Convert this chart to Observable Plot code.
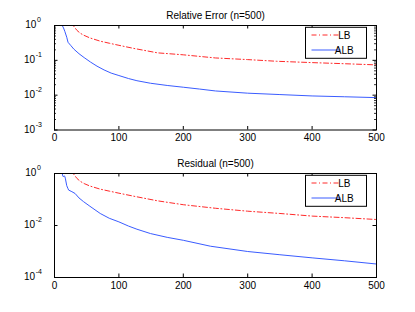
<!DOCTYPE html>
<html><head><meta charset="utf-8">
<script src="https://cdn.jsdelivr.net/npm/d3@7"></script>
<script src="https://cdn.jsdelivr.net/npm/@observablehq/plot@0.6"></script>
<style>
body{margin:0;background:#fff;}
#chart{width:415px;height:312px;background:#fff;}
svg{display:block;}
</style>
</head><body><div id="chart"></div>
<script>
// ---- tick labels / categories ----
const xTicks = [0, 100, 200, 300, 400, 500];
const topYTicks = [1e-3, 1e-2, 1e-1, 1];
const topYExponents = ["-3", "-2", "-1", "0"];
const botYTicks = [1e-4, 1e-2, 1];
const botYExponents = ["-4", "-2", "0"];
const seriesNames = ["LB", "ALB"];
const titles = ["Relative Error (n=500)", "Residual (n=500)"];

// ---- Relative error ----
const relLB_x = [1, 29, 35, 40, 46, 55, 71, 85, 100, 123, 160, 200, 250, 300, 345, 400, 450, 500];
const relLB_y = [1, 1, 0.72, 0.6, 0.52, 0.44, 0.355, 0.31, 0.27, 0.22, 0.164, 0.144, 0.117, 0.105, 0.094, 0.086, 0.08, 0.074];
const relALB_x = [1, 12, 14, 16, 19, 21, 25, 30, 38, 46, 56, 66, 77, 88, 100, 115, 128, 149, 175, 200, 225, 250, 300, 350, 400, 450, 500];
const relALB_y = [1, 1, 0.85, 0.68, 0.46, 0.33, 0.27, 0.21, 0.155, 0.12, 0.089, 0.068, 0.053, 0.043, 0.0366, 0.030, 0.026, 0.022, 0.019, 0.0169, 0.0150, 0.0132, 0.0114, 0.0104, 0.0095, 0.0090, 0.0085];

// ---- Residual ----
const resLB_x = [1, 29, 35, 40, 46, 55, 71, 85, 100, 123, 160, 200, 250, 300, 350, 400, 450, 500];
const resLB_y = [1, 1, 0.64, 0.5, 0.41, 0.33, 0.25, 0.21, 0.175, 0.134, 0.089, 0.063, 0.046, 0.0355, 0.029, 0.023, 0.02, 0.017];
const resALB_x = [1, 12, 13, 14, 15, 16, 17, 19, 21, 22, 27, 32, 38, 45, 55, 71, 85, 100, 115, 128, 149, 175, 200, 242, 300, 350, 400, 450, 500];
const resALB_y = [1, 1, 0.8, 0.74, 0.81, 0.78, 0.62, 0.34, 0.26, 0.23, 0.2, 0.17, 0.115, 0.083, 0.055, 0.029, 0.019, 0.0138, 0.0095, 0.0072, 0.0049, 0.0035, 0.0027, 0.0016, 0.00100, 0.00075, 0.00057, 0.00044, 0.00033];

const topMinor = [1e-3, 1e-2, 1e-1].flatMap(p => [2,3,4,5,6,7,8,9].map(m => m * p));

const FONT = "'Liberation Sans', Arial, Helvetica, sans-serif";
const RED = "#ff2a2a", BLUE = "#3a5cff", DASH = "5,2.5,1,2.5";

function pts(xs, ys) { return xs.map((x, i) => ({x, y: ys[i]})); }

function panel({title, lb, alb, yDomain, yTicks, yExps, minor, height, mt, mb}) {
  const W = 415, ml = 54, mr = 39;
  const ph = height - mt - mb, pw = W - ml - mr;
  const marks = [
    Plot.line(lb, {x: "x", y: "y", stroke: RED, strokeWidth: 1, strokeDasharray: DASH, clip: true}),
    Plot.line(alb, {x: "x", y: "y", stroke: BLUE, strokeWidth: 1, clip: true}),
    Plot.frame({stroke: "#000", strokeWidth: 1}),
    Plot.ruleX(xTicks, {insetTop: ph - 3.5, stroke: "#000"}),
    Plot.ruleX(xTicks, {insetBottom: ph - 3.5, stroke: "#000"}),
    Plot.ruleY(yTicks, {insetRight: pw - 3.5, stroke: "#000"}),
    Plot.ruleY(yTicks, {insetLeft: pw - 3.5, stroke: "#000"}),
    Plot.axisX(xTicks, {tickSize: 0, tickPadding: 4, fontSize: 10, fill: "#000", label: null}),
    Plot.text([title], {frameAnchor: "top", dy: -7, lineAnchor: "bottom", fontSize: 10, fill: "#000"})
  ];
  if (minor) {
    marks.push(Plot.ruleY(minor, {insetRight: pw - 2, stroke: "#000", strokeWidth: 0.8}));
    marks.push(Plot.ruleY(minor, {insetLeft: pw - 2, stroke: "#000", strokeWidth: 0.8}));
  }
  const chart = Plot.plot({
    width: W, height, marginLeft: ml, marginRight: mr, marginTop: mt, marginBottom: mb,
    style: {fontFamily: FONT, fontSize: "10px", color: "#000", background: "#fff"},
    x: {domain: [0, 500]},
    y: {type: "log", domain: yDomain, axis: null},
    marks
  });
  const svg = d3.select(chart);
  const yScale = chart.scale("y");
  // y tick labels: "10" with superscript exponent, one text element each
  const ga = svg.append("g").attr("font-family", FONT).attr("fill", "#000");
  yTicks.forEach((v, i) => {
    const py = yScale.apply(v);
    const t = ga.append("text").attr("x", ml - 21).attr("y", py + 3).attr("font-size", 10);
    t.append("tspan").text("10");
    t.append("tspan").attr("font-size", 7).attr("dx", 0.6).attr("dy", -5.6).text(yExps[i]);
  });
  // legend inside the frame, top-right
  const xr = chart.scale("x").range, yr = yScale.range;
  const right = Math.max(...xr), top = Math.min(...yr);
  const bw = 61, bh = 31;
  const bx = right - 9.5 - bw, by = top + 2.3;
  const g = svg.append("g").attr("font-family", FONT).attr("font-size", 10);
  g.append("rect").attr("x", bx).attr("y", by).attr("width", bw).attr("height", bh)
    .attr("fill", "#fff").attr("stroke", "#000").attr("stroke-width", 1);
  const entries = [{name: seriesNames[0], stroke: RED, dash: DASH}, {name: seriesNames[1], stroke: BLUE, dash: null}];
  entries.forEach((e, i) => {
    const cy = by + 7.7 + i * 15;
    g.append("line").attr("x1", bx + 6).attr("x2", bx + 35).attr("y1", cy).attr("y2", cy)
      .attr("stroke", e.stroke).attr("stroke-width", 1).attr("stroke-dasharray", e.dash);
    g.append("text").attr("x", bx + 38.8).attr("y", cy).attr("dy", "0.35em").attr("fill", "#000").text(e.name);
  });
  return chart;
}

const root = document.getElementById("chart");
root.appendChild(panel({
  title: titles[0], lb: pts(relLB_x, relLB_y), alb: pts(relALB_x, relALB_y),
  yDomain: [1e-3, 1], yTicks: topYTicks, yExps: topYExponents, minor: topMinor,
  height: 156, mt: 25, mb: 26.5
}));
root.appendChild(panel({
  title: titles[1], lb: pts(resLB_x, resLB_y), alb: pts(resALB_x, resALB_y),
  yDomain: [1e-4, 1], yTicks: botYTicks, yExps: botYExponents, minor: null,
  height: 156, mt: 17, mb: 35
}));
</script>
</body></html>
